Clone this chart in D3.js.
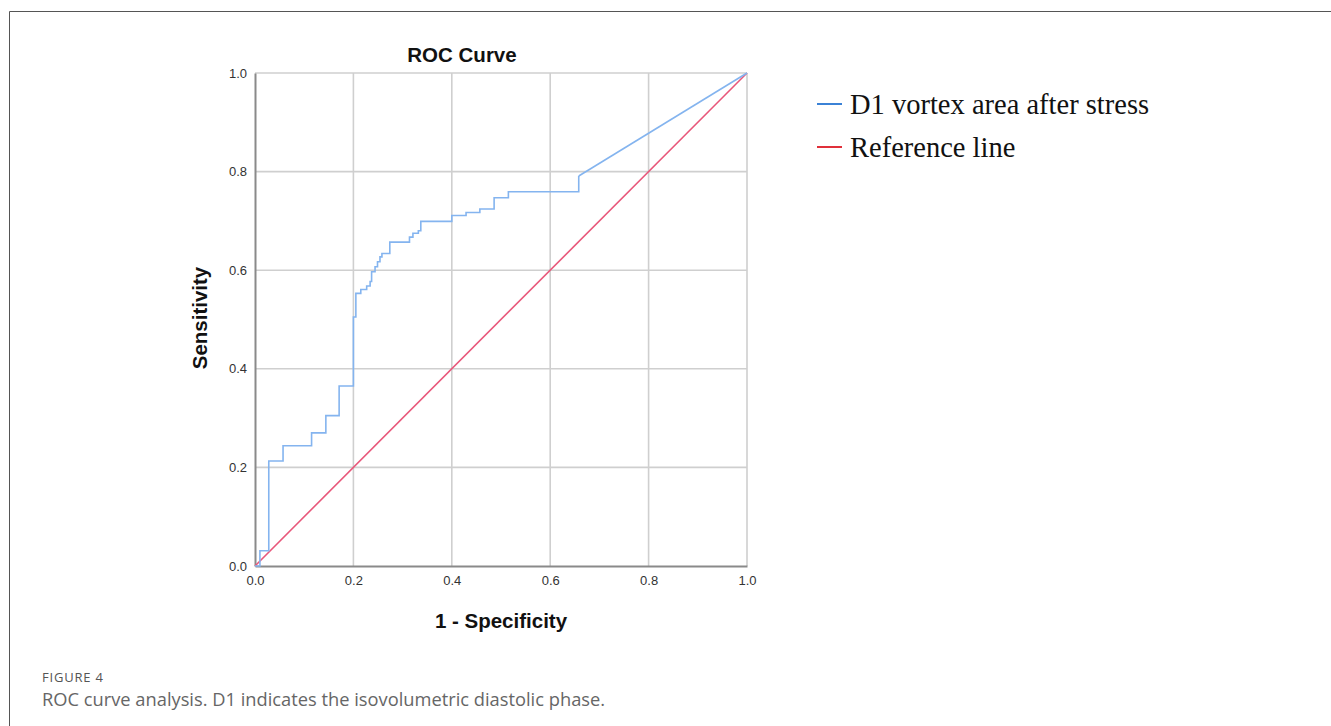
<!DOCTYPE html>
<html>
<head>
<meta charset="utf-8">
<script src="https://cdn.jsdelivr.net/npm/d3@7"></script>
<style>
  body { margin: 0; background: #fff; }
  svg { display: block; }
</style>
</head>
<body>
<svg id="chart" width="1331" height="726"></svg>
<script>
// corner points of the ROC step curve (horizontal, then up)
const stepFpr = [0, 0.010, 0.028, 0.057, 0.115, 0.144, 0.171, 0.200, 0.205, 0.215, 0.227, 0.234, 0.237,
  0.244, 0.249, 0.254, 0.258, 0.274, 0.314, 0.321, 0.332, 0.337, 0.400, 0.429, 0.457, 0.486, 0.515, 0.658];
const stepTpr = [0, 0.031, 0.213, 0.244, 0.270, 0.305, 0.365, 0.505, 0.553, 0.561, 0.568, 0.577, 0.597,
  0.607, 0.617, 0.627, 0.634, 0.657, 0.667, 0.675, 0.680, 0.699, 0.711, 0.717, 0.724, 0.747, 0.759, 0.791];
// the last tie group runs straight to the corner
const tailFpr = [0.658, 1];
const tailTpr = [0.791, 1];
const refFpr = [0, 1];
const refTpr = [0, 1];

const ticks = [0, 0.2, 0.4, 0.6, 0.8, 1.0];
const seriesNames = ["D1 vortex area after stress", "Reference line"];
const legendColors = ["#3b82d6", "#e0303a"];

const svg = d3.select("#chart");

// figure frame
svg.append("path")
  .attr("d", "M9.5,726 V11.5 H1331")
  .attr("fill", "none")
  .attr("stroke", "#555")
  .attr("stroke-width", 1);

const x = d3.scaleLinear().domain([0, 1]).range([255, 747]);
const y = d3.scaleLinear().domain([0, 1]).range([566, 73]);

// grid
const grid = svg.append("g").attr("stroke", "#cfcfcf").attr("stroke-width", 1.6);
grid.selectAll("line.v")
  .data(ticks.slice(1))
  .enter().append("line")
  .attr("x1", d => x(d)).attr("x2", d => x(d))
  .attr("y1", y(0)).attr("y2", y(1));
grid.selectAll("line.h")
  .data(ticks.slice(1))
  .enter().append("line")
  .attr("x1", x(0)).attr("x2", x(1))
  .attr("y1", d => y(d)).attr("y2", d => y(d));

// axes
const fmt = d3.format(".1f");
const xAxis = svg.append("g")
  .attr("transform", `translate(0,${y(0)})`)
  .call(d3.axisBottom(x).tickValues(ticks).tickFormat(fmt).tickSize(0).tickPadding(10));
const yAxis = svg.append("g")
  .attr("transform", `translate(${x(0)},0)`)
  .call(d3.axisLeft(y).tickValues(ticks).tickFormat(fmt).tickSize(0).tickPadding(8));

[xAxis, yAxis].forEach(a => {
  a.select(".domain").attr("stroke", "#8a8a8a").attr("stroke-width", 2);
  a.selectAll("text")
    .attr("font-family", "'Liberation Sans', Arial, sans-serif")
    .attr("font-size", 13)
    .attr("fill", "#333");
});

// reference diagonal
const line = d3.line().x(d => x(d[0])).y(d => y(d[1]));
svg.append("path")
  .datum(d3.zip(refFpr, refTpr))
  .attr("d", line)
  .attr("fill", "none")
  .attr("stroke", "#e8577a")
  .attr("stroke-width", 1.6);

// ROC curve
const stepLine = d3.line().x(d => x(d[0])).y(d => y(d[1])).curve(d3.curveStepAfter);
svg.append("path")
  .datum(d3.zip(stepFpr, stepTpr))
  .attr("d", stepLine)
  .attr("fill", "none")
  .attr("stroke", "#84b4ef")
  .attr("stroke-width", 1.6);
svg.append("path")
  .datum(d3.zip(tailFpr, tailTpr))
  .attr("d", line)
  .attr("fill", "none")
  .attr("stroke", "#84b4ef")
  .attr("stroke-width", 1.6);

// titles
const bold = "'Liberation Sans', Arial, sans-serif";
svg.append("text")
  .attr("x", 462).attr("y", 62)
  .attr("text-anchor", "middle")
  .attr("font-family", bold).attr("font-weight", "bold").attr("font-size", 20.5)
  .attr("fill", "#111")
  .text("ROC Curve");
svg.append("text")
  .attr("x", 501).attr("y", 628)
  .attr("text-anchor", "middle")
  .attr("font-family", bold).attr("font-weight", "bold").attr("font-size", 20.5)
  .attr("fill", "#111")
  .text("1 - Specificity");
svg.append("text")
  .attr("transform", "translate(207,318) rotate(-90)")
  .attr("text-anchor", "middle")
  .attr("font-family", bold).attr("font-weight", "bold").attr("font-size", 20.5)
  .attr("fill", "#111")
  .text("Sensitivity");

// legend
const legend = svg.append("g")
  .selectAll("g")
  .data(seriesNames)
  .enter().append("g")
  .attr("transform", (d, i) => `translate(817,${104 + i * 43})`);
legend.append("line")
  .attr("x1", 0).attr("x2", 25)
  .attr("stroke", (d, i) => legendColors[i])
  .attr("stroke-width", 2);
legend.append("text")
  .attr("x", 33).attr("y", 9.5)
  .attr("font-family", "'Liberation Serif', 'Times New Roman', serif")
  .attr("font-size", 28.5)
  .attr("fill", "#111")
  .text(d => d);

// caption
svg.append("text")
  .attr("x", 42).attr("y", 682)
  .attr("font-family", "'Open Sans', sans-serif")
  .attr("font-size", 13)
  .attr("letter-spacing", 0.8)
  .attr("fill", "#555")
  .text("FIGURE 4");
svg.append("text")
  .attr("x", 42).attr("y", 706)
  .attr("font-family", "'Open Sans', sans-serif")
  .attr("font-size", 18.3)
  .attr("fill", "#666")
  .text("ROC curve analysis. D1 indicates the isovolumetric diastolic phase.");
</script>
</body>
</html>
